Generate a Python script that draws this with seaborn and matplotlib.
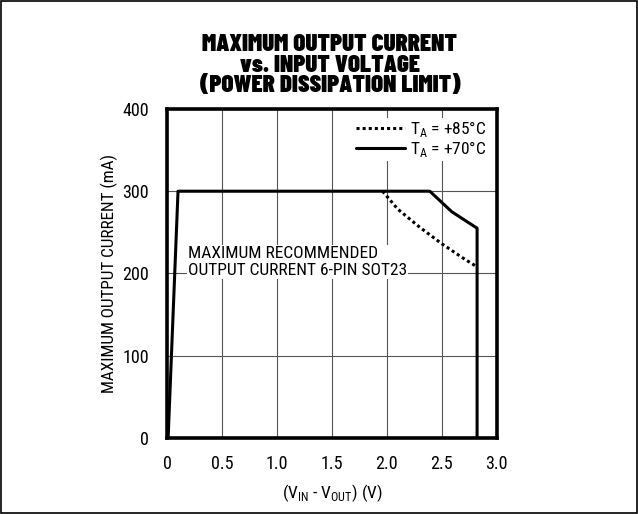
import numpy as np
import pandas as pd
import matplotlib
matplotlib.use("Agg")
import matplotlib.pyplot as plt
import seaborn as sns

sns.set_theme(style="white")
body_font = ["Roboto Condensed", "Barlow Condensed", "DejaVu Sans"]
plt.rcParams["font.family"] = body_font
plt.rcParams["mathtext.fontset"] = "custom"
plt.rcParams["mathtext.rm"] = "Roboto Condensed"
plt.rcParams["font.size"] = 12.5
plt.rcParams["text.color"] = "black"
plt.rcParams["axes.labelcolor"] = "black"

# data
v70 = [0.01, 0.10, 2.39, 2.59, 2.82, 2.82]
i70 = [0, 300, 300, 275, 255, 0]
v85 = [1.96, 2.10, 2.30, 2.50, 2.70, 2.82]
i85 = [300, 278, 256, 236, 218, 208]

x_ticks = [0, 0.5, 1.0, 1.5, 2.0, 2.5, 3.0]
x_labels = ["0", "0.5", "1.0", "1.5", "2.0", "2.5", "3.0"]
y_ticks = [0, 100, 200, 300, 400]

df70 = pd.DataFrame({"v": v70, "i": i70})
df85 = pd.DataFrame({"v": v85, "i": i85})

fig = plt.figure(figsize=(6.38, 5.14), dpi=100)
ax = fig.add_axes([0.2618, 0.148, 0.517, 0.64])

sns.lineplot(data=df85, x="v", y="i", ax=ax, color="black", lw=2.2, estimator=None,
             linestyle=(0, (1, 1)), sort=False, label="T$_\\mathregular{A}$ = +85°C")
sns.lineplot(data=df70, x="v", y="i", ax=ax, color="black", lw=2.2, estimator=None,
             sort=False, label="T$_\\mathregular{A}$ = +70°C")

ax.set_xlim(0, 3.0)
ax.set_ylim(0, 400)
ax.set_xticks(x_ticks)
ax.set_xticklabels(x_labels)
ax.set_yticks(y_ticks)
ax.grid(True, color="#555555", lw=0.8)
ax.tick_params(length=0, labelsize=13, colors="black")
ax.tick_params(axis="x", pad=12)
ax.tick_params(axis="y", pad=13)
for s in ax.spines.values():
    s.set_linewidth(2.6)
    s.set_color("black")

ax.set_xlabel("(V$_{\\mathregular{IN}}$ - V$_{\\mathregular{OUT}}$) (V)", fontsize=12.5, labelpad=7)
ax.set_ylabel("MAXIMUM OUTPUT CURRENT (mA)", fontsize=12.3, labelpad=3)

ax.text(0.19, 214, "MAXIMUM RECOMMENDED\nOUTPUT CURRENT 6-PIN SOT23", fontsize=12.5,
        va="center", ha="left", linespacing=1.15,
        bbox=dict(facecolor="white", edgecolor="none", pad=1))

leg = ax.legend(loc="upper right", frameon=True, fontsize=12.5, handlelength=2.8,
                handletextpad=0.3, borderaxespad=0.5, labelspacing=0.0, borderpad=0.1)
leg.get_frame().set_edgecolor("none")
leg.get_frame().set_facecolor("white")
leg.get_frame().set_alpha(1)

fig.text(0.517, 0.873, "MAXIMUM OUTPUT CURRENT\nvs. INPUT VOLTAGE\n(POWER DISSIPATION LIMIT)",
         ha="center", va="center", fontsize=18, fontweight=900, family="Barlow Condensed",
         linespacing=0.97)

fig.patches.append(plt.Rectangle((0.002, 0.002), 0.996, 0.996, transform=fig.transFigure,
                                 fill=False, edgecolor="black", lw=1.2))

fig.savefig("out.png", dpi=100)
